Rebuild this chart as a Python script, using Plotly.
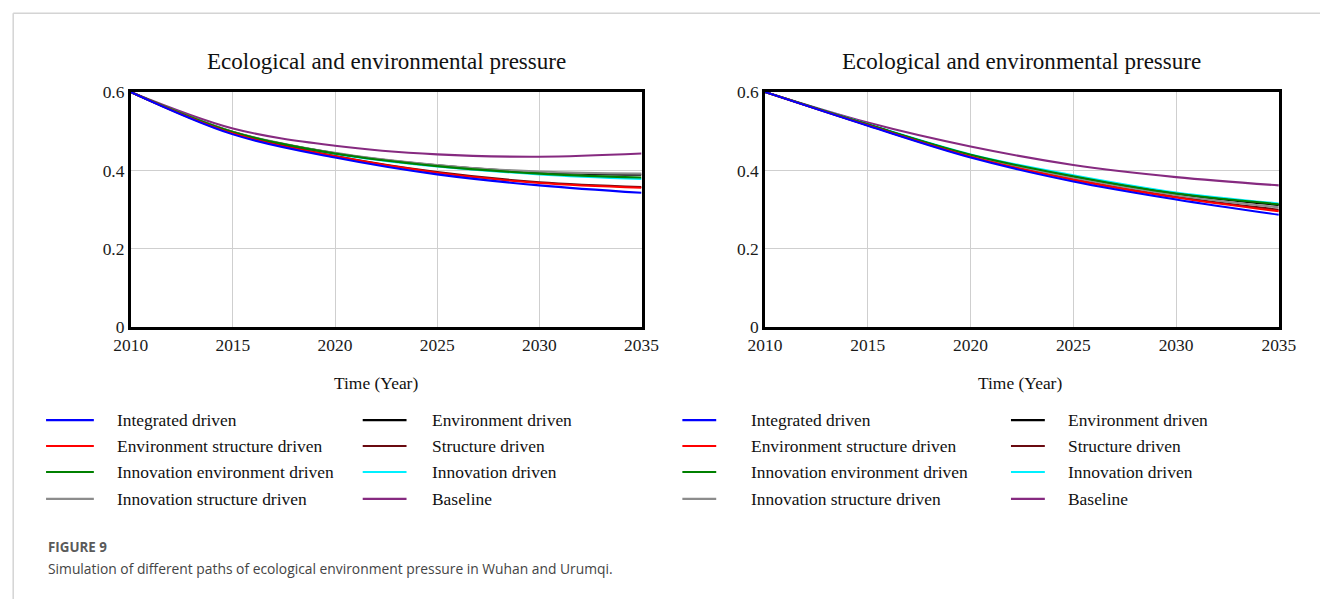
import plotly.graph_objects as go

# Layout is designed on a 1320 x 599 canvas; the page renders the figure
# behind an 8 px body margin and is captured slightly reduced, so positions
# and sizes are converted with the factors below.
SX, SY = 0.978, 0.970
DX, DY = -7, -1        # fine alignment of the whole canvas
K = 1 / 0.975          # size factor for fonts and strokes
PAD = 8
W, H = 1340, 612

# Simulation years (5-year steps, smoothed with spline)
years = [2010, 2015, 2020, 2025, 2030, 2035]

# Wuhan scenarios
wuhan_integrated = [0.600, 0.492, 0.433, 0.390, 0.362, 0.343]
wuhan_env_structure = [0.600, 0.494, 0.436, 0.394, 0.368, 0.356]
wuhan_innov_env = [0.600, 0.498, 0.443, 0.411, 0.392, 0.382]
wuhan_innov_structure = [0.600, 0.499, 0.445, 0.414, 0.397, 0.392]
wuhan_env = [0.600, 0.498, 0.444, 0.413, 0.395, 0.389]
wuhan_structure = [0.600, 0.495, 0.437, 0.396, 0.370, 0.358]
wuhan_innov = [0.600, 0.497, 0.442, 0.410, 0.390, 0.378]
wuhan_baseline = [0.600, 0.507, 0.463, 0.441, 0.435, 0.443]

# Urumqi scenarios
urumqi_integrated = [0.600, 0.514, 0.433, 0.372, 0.326, 0.287]
urumqi_env_structure = [0.600, 0.515, 0.435, 0.376, 0.331, 0.296]
urumqi_innov_env = [0.600, 0.517, 0.440, 0.385, 0.341, 0.314]
urumqi_innov_structure = [0.600, 0.516, 0.438, 0.381, 0.337, 0.306]
urumqi_env = [0.600, 0.517, 0.439, 0.383, 0.340, 0.312]
urumqi_structure = [0.600, 0.515, 0.436, 0.378, 0.333, 0.300]
urumqi_innov = [0.600, 0.518, 0.441, 0.388, 0.344, 0.316]
urumqi_baseline = [0.600, 0.522, 0.461, 0.414, 0.383, 0.362]

names = ["Integrated driven", "Environment structure driven",
         "Innovation environment driven", "Innovation structure driven",
         "Environment driven", "Structure driven", "Innovation driven", "Baseline"]
line_colors = ["#0000ff", "#ff0000", "#008000", "#8c8c8c",
               "#000000", "#6a0a10", "#00f0ff", "#862a80"]

wuhan = [wuhan_integrated, wuhan_env_structure, wuhan_innov_env, wuhan_innov_structure,
         wuhan_env, wuhan_structure, wuhan_innov, wuhan_baseline]
urumqi = [urumqi_integrated, urumqi_env_structure, urumqi_innov_env, urumqi_innov_structure,
          urumqi_env, urumqi_structure, urumqi_innov, urumqi_baseline]

# drawing order: baseline underneath, integrated on top
draw_order = [7, 6, 5, 4, 3, 2, 1, 0]

SERIF = "Liberation Serif, Times New Roman, serif"


def px(x):
    """Canvas column -> paper x."""
    return ((x + DX) / SX - PAD) / W


def py(y):
    """Canvas row -> paper y."""
    return 1 - ((y + DY) / SY - PAD) / H


def fs(size):
    return size * K


fig = go.Figure()
for xa, ya, data in (("x", "y", wuhan), ("x2", "y2", urumqi)):
    for i in draw_order:
        fig.add_trace(go.Scatter(
            x=years, y=data[i], name=names[i], mode="lines",
            line=dict(color=line_colors[i], width=fs(2), shape="spline"),
            xaxis=xa, yaxis=ya, showlegend=False, hoverinfo="x+y+name"))

axis_common = dict(
    range=[2010, 2035], tickvals=[2010, 2015, 2020, 2025, 2030, 2035],
    showgrid=True, gridcolor="#cfcfcf", gridwidth=1,
    showline=True, linecolor="#000000", linewidth=fs(2.5), mirror=True,
    ticks="", zeroline=False,
    tickfont=dict(family=SERIF, size=fs(17), color="#1a1a1a"),
)
yaxis_common = dict(
    range=[0, 0.6], tickvals=[0, 0.2, 0.4, 0.6],
    showgrid=True, gridcolor="#cfcfcf", gridwidth=1,
    showline=True, linecolor="#000000", linewidth=fs(2.5), mirror=True,
    ticks="", zeroline=False,
    tickfont=dict(family=SERIF, size=fs(17), color="#1a1a1a"),
)

ydom = [py(327), py(91)]
fig.update_layout(
    width=W, height=H,
    margin=dict(l=0, r=0, t=0, b=0),
    paper_bgcolor="#ffffff", plot_bgcolor="#ffffff",
    xaxis=dict(domain=[px(129), px(642)], anchor="y", **axis_common),
    yaxis=dict(domain=ydom, anchor="x", **yaxis_common),
    xaxis2=dict(domain=[px(766), px(1282)], anchor="y2", **axis_common),
    yaxis2=dict(domain=ydom, anchor="x2", **yaxis_common),
)

annotations = []
shapes = []

# panel titles and axis titles
for cx, axis_cx in ((386, 375), (1024, 1022)):
    annotations.append(dict(
        text="Ecological and environmental pressure", x=px(cx), y=py(60),
        xref="paper", yref="paper", xanchor="center", yanchor="middle",
        showarrow=False, font=dict(family=SERIF, size=fs(22.5), color="#111111")))
    annotations.append(dict(
        text="Time (Year)", x=px(axis_cx), y=py(383),
        xref="paper", yref="paper", xanchor="center", yanchor="middle",
        showarrow=False, font=dict(family=SERIF, size=fs(17), color="#111111")))

# legends (two columns, four rows per panel)
row_y = [420, 446, 472, 499]
legend_cols = [
    # (line x0, line x1, text x) for each column of each panel
    [(44, 92, 113), (362, 406, 430)],
    [(683, 717, 750), (1013, 1047, 1068)],
]
for panel in legend_cols:
    for c, (x0, x1, tx) in enumerate(panel):
        for r in range(4):
            k = c * 4 + r
            shapes.append(dict(
                type="line", xref="paper", yref="paper",
                x0=px(x0), x1=px(x1), y0=py(row_y[r]), y1=py(row_y[r]),
                line=dict(color=line_colors[k], width=fs(2))))
            annotations.append(dict(
                text=names[k], x=px(tx), y=py(row_y[r]),
                xref="paper", yref="paper", xanchor="left", yanchor="middle",
                showarrow=False, font=dict(family=SERIF, size=fs(17), color="#111111")))

# figure frame
shapes.append(dict(type="line", xref="paper", yref="paper",
                   x0=px(11), x1=1, y0=py(12), y1=py(12),
                   line=dict(color="#d4d4d4", width=1.5)))
shapes.append(dict(type="line", xref="paper", yref="paper",
                   x0=px(11), x1=px(11), y0=py(12), y1=0,
                   line=dict(color="#d4d4d4", width=1.5)))

# caption
annotations.append(dict(
    text="<b>FIGURE 9</b>", x=px(44), y=py(547),
    xref="paper", yref="paper", xanchor="left", yanchor="middle",
    showarrow=False, font=dict(family="Open Sans, sans-serif", size=fs(13), color="#5a5a5a")))
annotations.append(dict(
    text="Simulation of different paths of ecological environment pressure in Wuhan and Urumqi.",
    x=px(44), y=py(569), xref="paper", yref="paper", xanchor="left", yanchor="middle",
    showarrow=False, font=dict(family="Open Sans, sans-serif", size=fs(13.5), color="#444444")))

fig.update_layout(annotations=annotations, shapes=shapes)

fig.write_html("out.html")
